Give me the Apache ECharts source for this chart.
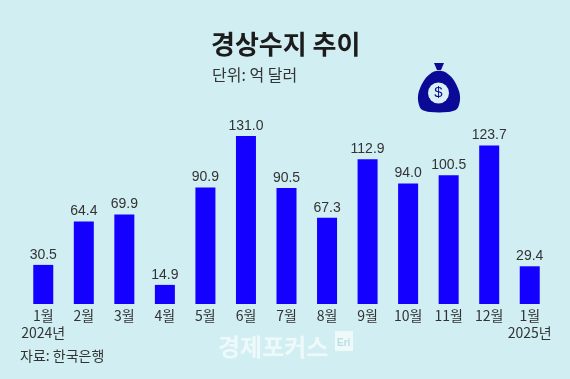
<!DOCTYPE html>
<html><head><meta charset="utf-8">
<style>html,body{margin:0;padding:0;background:#d1eef2}#c{width:570px;height:379px}</style>
<script src="https://cdn.jsdelivr.net/npm/echarts@6/dist/echarts.min.js"></script>
</head><body><div id="c"></div>
<script>
const categories = ['1월\n2024년','2월','3월','4월','5월','6월','7월','8월','9월','10월','11월','12월','1월\n2025년'];
const values = [30.5,64.4,69.9,14.9,90.9,131.0,90.5,67.3,112.9,94.0,100.5,123.7,29.4];
const labels = ['30.5','64.4','69.9','14.9','90.9','131.0','90.5','67.3','112.9','94.0','100.5','123.7','29.4'];
const font = '"Noto Sans CJK KR","Liberation Sans",sans-serif';
const chart = echarts.init(document.getElementById('c'), null, {renderer:'canvas'});
chart.setOption({
  animation:false,
  backgroundColor:'#d1eef2',
  title:[
    {text:'경상수지 추이',left:211,top:31,padding:0,textStyle:{fontFamily:font,fontSize:26,fontWeight:'bold',color:'#1c1c1c',letterSpacing:-1}},
    {text:'단위: 억 달러',left:212,top:67,padding:0,textStyle:{fontFamily:font,fontSize:16,fontWeight:'normal',color:'#333',letterSpacing:-1}},
    {text:'자료: 한국은행',left:20,top:349,padding:0,textStyle:{fontFamily:font,fontSize:14,fontWeight:'normal',color:'#333',letterSpacing:-1}}
  ],
  grid:{left:23,right:20,top:124.5,bottom:75},
  xAxis:{type:'category',data:categories,axisLine:{show:false},axisTick:{show:false},
    axisLabel:{interval:0,margin:3,fontFamily:font,fontSize:14,color:'#333',lineHeight:17,letterSpacing:-1}},
  yAxis:{type:'value',min:0,max:140,show:false,splitLine:{show:false}},
  series:[{type:'bar',data:values,barWidth:20,
    itemStyle:{color:'#1400ff'},
    label:{show:true,position:'top',distance:3,fontFamily:'"Liberation Sans",sans-serif',fontSize:14,color:'#333',letterSpacing:-0.6,
      formatter:p=>labels[p.dataIndex]}}],
  graphic:[
    {type:'polygon',shape:{points:[[434,63],[444,63],[441,70],[437,70]]},style:{fill:'#0a0a96'}},
    {type:'polygon',shape:{smooth:0.3,points:[[434,71.5],[444,71.5],[453,79],[459,91],[460,100],[457,109],[448,112],[430,112],[421,109],[418,100],[419,91],[425,79]]},style:{fill:'#0a0a96'}},
    {type:'circle',shape:{cx:438.5,cy:93,r:10.5},style:{fill:'#d9f0f4'}},
    {type:'text',x:438.5,y:93,style:{text:'$',fill:'#0a0a96',font:'15px "Liberation Sans"',textAlign:'center',textVerticalAlign:'middle'}},
    {type:'text',x:218,y:335,style:{text:'경제포커스',fill:'#eef9fa',font:'bold 24px "Noto Sans CJK KR"',letterSpacing:-0.3}},
    {type:'rect',shape:{x:335,y:331,width:18,height:20},style:{fill:'#eef9fa'}},
    {type:'text',x:337,y:348,style:{text:'Eri',fill:'#b9dfe6',font:'bold 10px "Liberation Sans"',textVerticalAlign:'bottom'}},
  ]
});
</script></body></html>
